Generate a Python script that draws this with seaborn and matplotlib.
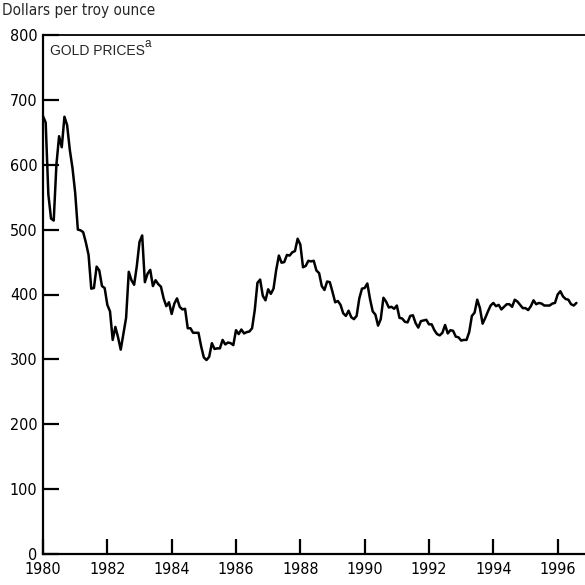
import numpy as np
import pandas as pd
import matplotlib
matplotlib.use("Agg")
import matplotlib.pyplot as plt
import seaborn as sns

# Monthly gold price, dollars per troy ounce (Jan 1980 - Aug 1996)
prices_1980 = [675, 665, 554, 517, 514, 600, 644, 627, 674, 661, 623, 595]
prices_1981 = [557, 500, 499, 496, 480, 461, 409, 410, 443, 437, 413, 410]
prices_1982 = [384, 374, 330, 350, 334, 315, 339, 364, 435, 422, 415, 444]
prices_1983 = [481, 491, 419, 432, 438, 413, 422, 416, 412, 394, 382, 388]
prices_1984 = [370, 386, 394, 381, 377, 378, 348, 348, 341, 341, 341, 320]
prices_1985 = [303, 299, 304, 325, 316, 317, 317, 330, 323, 326, 325, 322]
prices_1986 = [345, 339, 346, 340, 342, 343, 348, 376, 418, 423, 398, 391]
prices_1987 = [408, 401, 409, 438, 460, 449, 450, 461, 460, 465, 467, 486]
prices_1988 = [477, 442, 444, 452, 451, 452, 437, 433, 413, 407, 420, 419]
prices_1989 = [404, 388, 390, 384, 371, 367, 375, 365, 362, 367, 394, 409]
prices_1990 = [410, 417, 393, 374, 369, 352, 362, 395, 389, 380, 381, 378]
prices_1991 = [383, 364, 363, 358, 357, 367, 368, 356, 349, 359, 360, 361]
prices_1992 = [354, 354, 345, 339, 337, 341, 353, 340, 345, 344, 335, 334]
prices_1993 = [329, 330, 330, 342, 367, 372, 392, 379, 355, 364, 374, 383]
prices_1994 = [387, 382, 384, 377, 381, 385, 385, 381, 392, 389, 384, 379]
prices_1995 = [379, 376, 382, 391, 385, 387, 386, 383, 383, 383, 386, 387]
prices_1996 = [400, 405, 397, 393, 392, 385, 383, 387]

y_ticks = [0, 100, 200, 300, 400, 500, 600, 700, 800]
x_ticks = [1980, 1982, 1984, 1986, 1988, 1990, 1992, 1994, 1996]

all_years = [prices_1980, prices_1981, prices_1982, prices_1983, prices_1984,
             prices_1985, prices_1986, prices_1987, prices_1988, prices_1989,
             prices_1990, prices_1991, prices_1992, prices_1993, prices_1994,
             prices_1995, prices_1996]
dates, vals = [], []
for i, yr in enumerate(all_years):
    for m, v in enumerate(yr):
        dates.append(1980 + i + m / 12.0)
        vals.append(v)
df = pd.DataFrame({"date": dates, "price": vals})

sns.set_style("white")
plt.rcParams['font.family'] = ['DejaVu Sans']
plt.rcParams['font.stretch'] = 'condensed'

fig = plt.figure(figsize=(5.85, 5.85), dpi=100)
ax = fig.add_axes([43 / 585, 1 - 554 / 585, 1 - 43 / 585, (554 - 35) / 585])

sns.lineplot(data=df, x="date", y="price", ax=ax, color="black", linewidth=1.8)

ax.set_xlim(1980, 1996.85)
ax.set_ylim(0, 800)
ax.set_xticks(x_ticks)
ax.set_xticklabels([str(t) for t in x_ticks], fontstretch="condensed")
ax.set_yticks(y_ticks)
ax.set_yticklabels([str(t) for t in y_ticks], fontstretch="condensed")
ax.set_xlabel("")
ax.set_ylabel("")

ax.tick_params(axis="both", direction="in", width=1.6, bottom=True, left=True,
               top=False, right=False,
               color="black", labelsize=11.5, labelcolor="black")
ax.tick_params(axis="y", pad=4, length=11.5)
ax.tick_params(axis="x", pad=6, length=10.5)

for s in ["left", "bottom"]:
    ax.spines[s].set_linewidth(1.6)
    ax.spines[s].set_color("black")
ax.spines["top"].set_linewidth(1.3)
ax.spines["top"].set_color("black")
ax.spines["right"].set_visible(False)

title = fig.text(50 / 585, 1 - 51 / 585, "GOLD PRICES", fontsize=10,
                 family=["Liberation Sans", "DejaVu Sans"], fontstretch="normal",
                 va="center", ha="left")
ax.annotate("a", xy=(1, 0.55), xycoords=title, fontsize=8.5,
            family=["Liberation Sans", "DejaVu Sans"], fontstretch="normal",
            va="bottom", ha="left")

fig.text(2 / 585, 1 - 11 / 585, "Dollars per troy ounce", fontsize=11,
         fontstretch="condensed", va="center", ha="left")

fig.savefig("out.png", dpi=100, facecolor="white")
